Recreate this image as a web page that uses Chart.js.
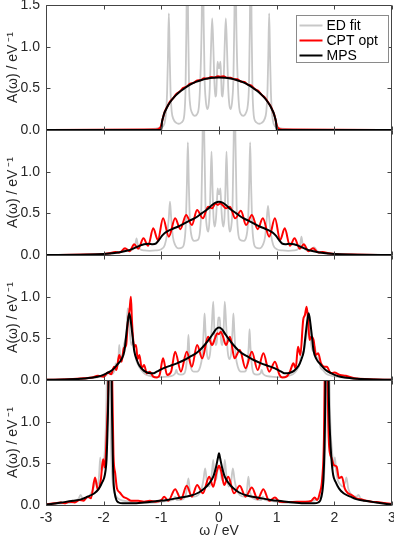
<!DOCTYPE html>
<html><head><meta charset="utf-8">
<script src="https://cdn.jsdelivr.net/npm/chart.js@4.4.1/dist/chart.umd.min.js"></script>
<style>
html,body{margin:0;padding:0;background:#fff;}
#wrap{position:relative;width:394px;height:540px;overflow:hidden;background:#fff;}
#wrap canvas{position:absolute;left:0;top:0;}
</style></head><body>
<div id="wrap">
<canvas id="p0" width="394" height="540"></canvas>
<canvas id="p1" width="394" height="540"></canvas>
<canvas id="p2" width="394" height="540"></canvas>
<canvas id="p3" width="394" height="540"></canvas>
</div>
<script>
// ---------- tick labels / names ----------
const xTickValues = [-3, -2, -1, 0, 1, 2, 3];
const yTickValues = [0, 0.5, 1.0, 1.5];
const seriesNames = ['ED fit', 'CPT opt', 'MPS'];
const yTitle = 'A(\u03c9) / eV\u2009\u207b\u00b9';
const xTitle = '\u03c9 / eV';

// ---------- panel 1 ----------
const ed1 = [[-3,0],[-1.3,0.005],[-1.1,0.015],[-1.0,0.035],[-0.95,0.07],[-0.92,0.2],[-0.9,0.45],[-0.885,0.9],[-0.87,1.4],[-0.855,0.9],[-0.84,0.45],[-0.82,0.22],[-0.79,0.13],[-0.74,0.085],[-0.7,0.075],[-0.65,0.09],[-0.61,0.14],[-0.595,0.24],[-0.58,0.5],[-0.565,1.25],[-0.55,2.5],[-0.535,1.25],[-0.52,0.55],[-0.5,0.3],[-0.47,0.21],[-0.42,0.17],[-0.38,0.19],[-0.35,0.27],[-0.33,0.5],[-0.3,1.3],[-0.283,2.5],[-0.266,1.3],[-0.25,0.62],[-0.23,0.36],[-0.205,0.25],[-0.18,0.3],[-0.16,0.5],[-0.14,0.95],[-0.118,1.34],[-0.096,0.95],[-0.08,0.58],[-0.065,0.4],[-0.05,0.42],[-0.037,0.62],[-0.025,0.82],[-0.012,0.77],[0,0.74],[0.012,0.77],[0.025,0.82],[0.037,0.62],[0.05,0.42],[0.065,0.4],[0.08,0.58],[0.096,0.95],[0.118,1.34],[0.14,0.95],[0.16,0.5],[0.18,0.3],[0.205,0.25],[0.23,0.36],[0.25,0.62],[0.266,1.3],[0.283,2.5],[0.3,1.3],[0.33,0.5],[0.35,0.27],[0.38,0.19],[0.42,0.17],[0.47,0.21],[0.5,0.3],[0.52,0.55],[0.535,1.25],[0.55,2.5],[0.565,1.25],[0.58,0.5],[0.595,0.24],[0.61,0.14],[0.65,0.09],[0.7,0.075],[0.74,0.085],[0.79,0.13],[0.82,0.22],[0.84,0.45],[0.855,0.9],[0.87,1.4],[0.885,0.9],[0.9,0.45],[0.92,0.2],[0.95,0.07],[1.0,0.035],[1.1,0.015],[1.3,0.005],[3,0]];
const cpt1 = [[-3,0],[-1.15,0.005],[-1.06,0.01],[-1.03,0.02],[-1.01,0.04],[-0.99,0.09],[-0.97,0.15],[-0.94,0.22],[-0.9,0.275],[-0.85,0.34],[-0.8,0.378],[-0.74,0.432],[-0.68,0.462],[-0.62,0.505],[-0.56,0.522],[-0.5,0.556],[-0.44,0.566],[-0.38,0.594],[-0.32,0.598],[-0.26,0.62],[-0.2,0.618],[-0.14,0.636],[-0.08,0.63],[-0.02,0.645],[0.02,0.638],[0.08,0.644],[0.14,0.628],[0.2,0.627],[0.26,0.61],[0.32,0.608],[0.38,0.582],[0.44,0.576],[0.5,0.545],[0.56,0.532],[0.62,0.492],[0.68,0.47],[0.74,0.422],[0.8,0.385],[0.85,0.333],[0.9,0.28],[0.94,0.215],[0.97,0.155],[0.99,0.09],[1.01,0.04],[1.03,0.02],[1.06,0.01],[1.15,0.005],[3,0]];
const mps1 = [[-3,0],[-1.02,0],[-1.0,0.01],[-0.99,0.09],[-0.97,0.15],[-0.95,0.2],[-0.92,0.245],[-0.88,0.3],[-0.82,0.36],[-0.75,0.415],[-0.68,0.46],[-0.6,0.5],[-0.5,0.545],[-0.4,0.578],[-0.3,0.601],[-0.2,0.617],[-0.1,0.627],[0,0.63],[0.1,0.627],[0.2,0.617],[0.3,0.601],[0.4,0.578],[0.5,0.545],[0.6,0.5],[0.68,0.46],[0.75,0.415],[0.82,0.36],[0.88,0.3],[0.92,0.245],[0.95,0.2],[0.97,0.15],[0.99,0.09],[1.0,0.01],[1.02,0],[3,0]];

// ---------- panel 2 ----------
const ed2 = [[-3,0],[-2.2,0.005],[-1.9,0.015],[-1.75,0.03],[-1.65,0.05],[-1.6,0.07],[-1.55,0.05],[-1.49,0.07],[-1.45,0.13],[-1.43,0.2],[-1.41,0.13],[-1.37,0.07],[-1.3,0.055],[-1.2,0.05],[-1.1,0.055],[-1.0,0.07],[-0.94,0.12],[-0.9,0.25],[-0.87,0.45],[-0.85,0.64],[-0.83,0.45],[-0.8,0.22],[-0.76,0.12],[-0.7,0.08],[-0.64,0.09],[-0.6,0.16],[-0.575,0.38],[-0.555,0.9],[-0.54,1.35],[-0.525,0.9],[-0.505,0.42],[-0.48,0.24],[-0.43,0.17],[-0.37,0.18],[-0.33,0.28],[-0.305,0.6],[-0.285,1.4],[-0.27,2.4],[-0.255,1.4],[-0.235,0.6],[-0.21,0.33],[-0.185,0.28],[-0.165,0.42],[-0.148,0.8],[-0.13,1.24],[-0.112,0.8],[-0.095,0.45],[-0.075,0.34],[-0.055,0.42],[-0.038,0.6],[-0.024,0.8],[-0.012,0.75],[0,0.73],[0.012,0.75],[0.024,0.8],[0.038,0.6],[0.055,0.42],[0.075,0.34],[0.095,0.45],[0.112,0.8],[0.13,1.24],[0.148,0.8],[0.165,0.42],[0.185,0.28],[0.21,0.33],[0.235,0.6],[0.255,1.4],[0.27,2.4],[0.285,1.4],[0.305,0.6],[0.33,0.28],[0.37,0.18],[0.43,0.17],[0.48,0.24],[0.505,0.42],[0.525,0.9],[0.54,1.35],[0.555,0.9],[0.575,0.38],[0.6,0.16],[0.64,0.09],[0.7,0.08],[0.76,0.12],[0.8,0.22],[0.83,0.45],[0.85,0.59],[0.87,0.45],[0.9,0.25],[0.94,0.12],[1.0,0.07],[1.1,0.055],[1.2,0.05],[1.3,0.055],[1.37,0.07],[1.41,0.13],[1.43,0.22],[1.45,0.13],[1.49,0.07],[1.55,0.05],[1.6,0.07],[1.65,0.09],[1.7,0.05],[1.75,0.03],[1.9,0.015],[2.2,0.005],[3,0]];
const cpt2 = [[-3,0],[-2.3,0.005],[-2.05,0.01],[-1.9,0.02],[-1.8,0.035],[-1.72,0.03],[-1.63,0.08],[-1.55,0.045],[-1.47,0.13],[-1.4,0.075],[-1.31,0.2],[-1.23,0.11],[-1.14,0.32],[-1.06,0.18],[-0.97,0.44],[-0.87,0.22],[-0.76,0.44],[-0.67,0.31],[-0.57,0.48],[-0.47,0.36],[-0.38,0.54],[-0.28,0.44],[-0.19,0.58],[-0.12,0.56],[-0.06,0.62],[-0.02,0.6],[0.02,0.62],[0.06,0.6],[0.12,0.56],[0.19,0.58],[0.28,0.44],[0.38,0.53],[0.47,0.36],[0.57,0.48],[0.67,0.31],[0.76,0.44],[0.87,0.22],[0.97,0.44],[1.06,0.18],[1.14,0.32],[1.23,0.11],[1.31,0.2],[1.4,0.075],[1.47,0.13],[1.55,0.045],[1.63,0.08],[1.72,0.03],[1.8,0.035],[1.9,0.02],[2.05,0.01],[2.3,0.005],[3,0]];
const mps2 = [[-3,0],[-2.4,0.002],[-2.1,0.008],[-1.9,0.018],[-1.75,0.03],[-1.6,0.05],[-1.48,0.08],[-1.38,0.11],[-1.3,0.13],[-1.22,0.135],[-1.15,0.13],[-1.09,0.14],[-1.04,0.18],[-0.99,0.23],[-0.94,0.265],[-0.88,0.29],[-0.8,0.315],[-0.7,0.345],[-0.6,0.38],[-0.5,0.415],[-0.4,0.45],[-0.3,0.5],[-0.2,0.55],[-0.12,0.6],[-0.06,0.628],[0,0.64],[0.06,0.628],[0.12,0.6],[0.2,0.55],[0.3,0.5],[0.4,0.45],[0.5,0.415],[0.6,0.38],[0.7,0.345],[0.8,0.315],[0.88,0.29],[0.94,0.265],[0.99,0.23],[1.04,0.18],[1.09,0.14],[1.15,0.13],[1.22,0.135],[1.3,0.13],[1.38,0.11],[1.48,0.08],[1.6,0.05],[1.75,0.03],[1.9,0.018],[2.1,0.008],[2.4,0.002],[3,0]];

// ---------- panel 3 ----------
const ed3 = [[-3,0],[-2.5,0.01],[-2.2,0.025],[-2.05,0.04],[-1.95,0.06],[-1.9,0.1],[-1.86,0.07],[-1.81,0.12],[-1.79,0.2],[-1.77,0.13],[-1.745,0.25],[-1.73,0.42],[-1.71,0.28],[-1.68,0.28],[-1.65,0.42],[-1.62,0.5],[-1.6,0.62],[-1.585,0.86],[-1.565,0.82],[-1.545,0.56],[-1.52,0.42],[-1.495,0.46],[-1.47,0.36],[-1.44,0.25],[-1.4,0.18],[-1.35,0.12],[-1.28,0.07],[-1.2,0.05],[-1.1,0.035],[-1.0,0.035],[-0.9,0.04],[-0.8,0.055],[-0.76,0.08],[-0.74,0.12],[-0.72,0.08],[-0.66,0.065],[-0.6,0.08],[-0.57,0.16],[-0.545,0.35],[-0.53,0.54],[-0.515,0.35],[-0.49,0.16],[-0.44,0.1],[-0.38,0.1],[-0.33,0.15],[-0.29,0.3],[-0.265,0.6],[-0.25,0.8],[-0.235,0.6],[-0.21,0.32],[-0.18,0.25],[-0.15,0.35],[-0.125,0.65],[-0.1,0.94],[-0.08,0.6],[-0.06,0.42],[-0.04,0.45],[-0.025,0.6],[-0.012,0.75],[0,0.72],[0.012,0.75],[0.025,0.6],[0.04,0.45],[0.06,0.42],[0.08,0.6],[0.1,0.94],[0.125,0.65],[0.15,0.35],[0.18,0.25],[0.21,0.32],[0.235,0.6],[0.25,0.8],[0.265,0.6],[0.29,0.3],[0.33,0.15],[0.38,0.1],[0.44,0.1],[0.49,0.18],[0.515,0.4],[0.53,0.61],[0.545,0.4],[0.57,0.18],[0.6,0.08],[0.66,0.065],[0.72,0.08],[0.74,0.12],[0.76,0.08],[0.8,0.055],[0.9,0.04],[1.0,0.035],[1.1,0.035],[1.2,0.05],[1.28,0.07],[1.35,0.12],[1.4,0.2],[1.43,0.35],[1.46,0.3],[1.49,0.42],[1.52,0.55],[1.55,0.76],[1.575,0.6],[1.6,0.42],[1.63,0.35],[1.66,0.4],[1.69,0.28],[1.73,0.25],[1.76,0.15],[1.8,0.12],[1.85,0.08],[1.9,0.06],[2.0,0.045],[2.2,0.025],[2.5,0.01],[3,0]];
const cpt3 = [[-3,0.002],[-2.6,0.01],[-2.35,0.02],[-2.2,0.03],[-2.1,0.05],[-2.0,0.04],[-1.93,0.09],[-1.87,0.07],[-1.82,0.16],[-1.78,0.12],[-1.73,0.3],[-1.69,0.22],[-1.65,0.38],[-1.61,0.42],[-1.58,0.7],[-1.55,0.85],[-1.528,1.0],[-1.51,0.72],[-1.49,0.5],[-1.47,0.4],[-1.44,0.42],[-1.41,0.25],[-1.38,0.3],[-1.34,0.14],[-1.3,0.18],[-1.25,0.08],[-1.2,0.1],[-1.14,0.04],[-1.08,0.03],[-1.03,0.06],[-0.97,0.26],[-0.9,0.06],[-0.83,0.1],[-0.76,0.34],[-0.66,0.1],[-0.56,0.34],[-0.47,0.16],[-0.38,0.42],[-0.29,0.26],[-0.19,0.52],[-0.12,0.42],[-0.07,0.5],[-0.03,0.56],[0,0.55],[0.03,0.58],[0.07,0.52],[0.12,0.42],[0.19,0.52],[0.27,0.26],[0.36,0.36],[0.46,0.14],[0.57,0.34],[0.67,0.12],[0.77,0.32],[0.87,0.1],[0.97,0.22],[1.05,0.06],[1.1,0.03],[1.17,0.04],[1.23,0.1],[1.29,0.2],[1.33,0.14],[1.37,0.4],[1.41,0.3],[1.46,0.72],[1.49,0.78],[1.52,0.88],[1.545,0.72],[1.57,0.48],[1.6,0.52],[1.64,0.48],[1.68,0.3],[1.72,0.32],[1.77,0.2],[1.83,0.16],[1.87,0.16],[1.94,0.08],[2.0,0.09],[2.1,0.06],[2.2,0.05],[2.35,0.02],[2.6,0.01],[3,0.002]];
const mps3 = [[-3,0.002],[-2.7,0.006],[-2.4,0.015],[-2.18,0.03],[-2.05,0.05],[-1.95,0.08],[-1.85,0.12],[-1.77,0.18],[-1.69,0.25],[-1.64,0.35],[-1.615,0.5],[-1.585,0.68],[-1.555,0.8],[-1.525,0.68],[-1.495,0.5],[-1.47,0.35],[-1.425,0.24],[-1.38,0.17],[-1.3,0.11],[-1.22,0.085],[-1.15,0.08],[-1.08,0.1],[-0.97,0.14],[-0.85,0.17],[-0.73,0.2],[-0.6,0.24],[-0.5,0.28],[-0.4,0.32],[-0.33,0.36],[-0.25,0.42],[-0.16,0.5],[-0.1,0.56],[-0.05,0.61],[0,0.63],[0.05,0.61],[0.1,0.56],[0.16,0.5],[0.25,0.42],[0.33,0.36],[0.4,0.32],[0.5,0.28],[0.6,0.24],[0.73,0.2],[0.85,0.17],[0.97,0.14],[1.08,0.1],[1.15,0.08],[1.22,0.085],[1.3,0.11],[1.38,0.17],[1.425,0.24],[1.47,0.35],[1.495,0.5],[1.525,0.68],[1.555,0.8],[1.585,0.68],[1.615,0.5],[1.64,0.35],[1.69,0.25],[1.77,0.18],[1.85,0.12],[1.95,0.08],[2.05,0.05],[2.18,0.03],[2.4,0.015],[2.7,0.006],[3,0.002]];

// ---------- panel 4 ----------
const ed4 = [[-3,0.005],[-2.7,0.02],[-2.5,0.04],[-2.44,0.07],[-2.4,0.12],[-2.36,0.07],[-2.28,0.09],[-2.22,0.14],[-2.17,0.22],[-2.14,0.3],[-2.11,0.22],[-2.08,0.35],[-2.06,0.57],[-2.04,0.42],[-2.01,0.45],[-1.98,0.65],[-1.96,1.0],[-1.94,1.8],[-1.92,3.5],[-1.9,2.5],[-1.88,1.0],[-1.86,0.45],[-1.83,0.2],[-1.78,0.1],[-1.7,0.06],[-1.6,0.045],[-1.45,0.03],[-1.3,0.025],[-1.1,0.03],[-0.95,0.045],[-0.8,0.06],[-0.76,0.1],[-0.73,0.06],[-0.62,0.07],[-0.57,0.14],[-0.53,0.32],[-0.5,0.14],[-0.44,0.1],[-0.36,0.12],[-0.3,0.2],[-0.27,0.3],[-0.24,0.44],[-0.21,0.28],[-0.17,0.22],[-0.13,0.34],[-0.1,0.54],[-0.08,0.36],[-0.05,0.3],[-0.025,0.42],[0,0.46],[0.025,0.42],[0.05,0.3],[0.08,0.36],[0.1,0.54],[0.13,0.34],[0.17,0.22],[0.21,0.28],[0.24,0.44],[0.27,0.3],[0.3,0.2],[0.36,0.12],[0.44,0.1],[0.48,0.15],[0.51,0.34],[0.54,0.15],[0.62,0.07],[0.73,0.06],[0.76,0.1],[0.8,0.06],[0.95,0.045],[1.1,0.03],[1.3,0.025],[1.45,0.03],[1.6,0.045],[1.7,0.07],[1.76,0.1],[1.8,0.2],[1.83,0.45],[1.85,1.0],[1.87,2.5],[1.89,3.5],[1.91,1.8],[1.93,1.0],[1.96,0.65],[1.99,0.45],[2.01,0.57],[2.03,0.42],[2.06,0.3],[2.1,0.25],[2.15,0.22],[2.19,0.28],[2.21,0.33],[2.24,0.2],[2.3,0.12],[2.38,0.1],[2.42,0.12],[2.46,0.07],[2.6,0.04],[2.8,0.02],[3,0.005]];
const cpt4 = [[-3,0.01],[-2.85,0.02],[-2.75,0.03],[-2.68,0.02],[-2.6,0.04],[-2.5,0.03],[-2.42,0.06],[-2.35,0.05],[-2.28,0.1],[-2.22,0.08],[-2.15,0.33],[-2.1,0.18],[-2.05,0.3],[-2.01,0.55],[-1.98,0.45],[-1.95,0.8],[-1.92,1.4],[-1.9,2.2],[-1.88,3],[-1.865,2.5],[-1.85,1.4],[-1.83,0.6],[-1.8,0.38],[-1.77,0.2],[-1.72,0.15],[-1.66,0.1],[-1.6,0.08],[-1.52,0.05],[-1.4,0.05],[-1.3,0.04],[-1.2,0.05],[-1.1,0.04],[-1.0,0.06],[-0.95,0.1],[-0.88,0.05],[-0.76,0.19],[-0.66,0.07],[-0.56,0.23],[-0.47,0.1],[-0.38,0.24],[-0.28,0.14],[-0.17,0.34],[-0.1,0.22],[-0.04,0.4],[0,0.47],[0.04,0.4],[0.09,0.24],[0.16,0.34],[0.26,0.14],[0.36,0.23],[0.46,0.1],[0.57,0.21],[0.67,0.07],[0.77,0.19],[0.87,0.05],[0.97,0.09],[1.05,0.04],[1.2,0.035],[1.35,0.04],[1.5,0.04],[1.6,0.05],[1.66,0.09],[1.7,0.06],[1.75,0.15],[1.79,0.32],[1.82,0.8],[1.84,2.0],[1.86,3],[1.875,2.2],[1.89,1.2],[1.91,0.7],[1.95,0.57],[1.99,0.48],[2.04,0.46],[2.08,0.32],[2.13,0.34],[2.18,0.2],[2.24,0.14],[2.3,0.12],[2.38,0.08],[2.46,0.07],[2.55,0.05],[2.65,0.04],[2.8,0.03],[3,0.01]];
const mps4 = [[-3,0.005],[-2.73,0.03],[-2.53,0.05],[-2.38,0.07],[-2.28,0.1],[-2.16,0.14],[-2.08,0.2],[-2.02,0.28],[-1.98,0.36],[-1.95,0.55],[-1.935,0.85],[-1.92,1.3],[-1.905,2.2],[-1.89,4],[-1.875,3],[-1.86,1.4],[-1.845,0.7],[-1.83,0.3],[-1.81,0.15],[-1.78,0.06],[-1.74,0.03],[-1.67,0.02],[-1.5,0.02],[-1.3,0.03],[-1.1,0.045],[-0.9,0.06],[-0.7,0.085],[-0.5,0.11],[-0.35,0.15],[-0.25,0.2],[-0.17,0.26],[-0.1,0.34],[-0.05,0.46],[-0.02,0.56],[0,0.62],[0.02,0.56],[0.05,0.46],[0.1,0.34],[0.17,0.26],[0.25,0.2],[0.35,0.15],[0.5,0.11],[0.7,0.085],[0.9,0.06],[1.1,0.045],[1.3,0.03],[1.5,0.02],[1.65,0.02],[1.72,0.03],[1.76,0.06],[1.79,0.15],[1.81,0.3],[1.83,0.7],[1.845,1.4],[1.86,3],[1.875,4],[1.89,2.2],[1.905,1.3],[1.925,0.85],[1.95,0.55],[1.98,0.36],[2.02,0.28],[2.08,0.2],[2.16,0.14],[2.28,0.1],[2.38,0.07],[2.53,0.05],[2.73,0.03],[3,0.005]];

const panelData = [
  [ed1, cpt1, mps1],
  [ed2, cpt2, mps2],
  [ed3, cpt3, mps3],
  [ed4, cpt4, mps4]
];

// ---------- styling ----------
const seriesColors = ['#c8c8c8', '#ff0000', '#000000'];
const seriesWidths = [1.8, 2, 2];
const FONT = '"Liberation Sans", Arial, Helvetica, sans-serif';
const TEXT = '#262626';
const AXIS = '#444444';
const H = 540, TOP = 5, PH = 125, LEFTW = 46, RIGHTPAD = 2, XAXISH = 35;

Chart.defaults.font.family = FONT;
Chart.defaults.color = TEXT;

function drawFrame(chart) {
  const ctx = chart.ctx, a = chart.chartArea;
  const xs = chart.scales.x, ys = chart.scales.y;
  const L = Math.round(a.left) + 0.5, R = Math.round(a.right) - 0.5;
  const T = Math.round(a.top) + 0.5, B = Math.round(a.bottom) + 0.5;
  ctx.save();
  ctx.strokeStyle = AXIS;
  ctx.lineWidth = 1;
  ctx.beginPath();
  ctx.moveTo(L, T); ctx.lineTo(R, T); ctx.lineTo(R, B); ctx.lineTo(L, B); ctx.closePath();
  xTickValues.forEach(v => {
    const px = Math.round(xs.getPixelForValue(v)) + 0.5;
    ctx.moveTo(px, B); ctx.lineTo(px, B - 4);
    ctx.moveTo(px, T); ctx.lineTo(px, T + 4);
  });
  yTickValues.forEach(v => {
    const py = Math.round(ys.getPixelForValue(v)) + 0.5;
    ctx.moveTo(L, py); ctx.lineTo(L + 4, py);
    ctx.moveTo(R, py); ctx.lineTo(R - 4, py);
  });
  ctx.stroke();
  ctx.restore();
}

function drawLegend(chart) {
  const {ctx, chartArea: a} = chart;
  const bw = 92, bh = 47;
  const bx = Math.round(a.right) - 96 + 0.5, by = Math.round(a.top) + 10 + 0.5;
  ctx.save();
  ctx.fillStyle = '#ffffff';
  ctx.fillRect(bx, by, bw, bh);
  ctx.strokeStyle = '#8a8a8a';
  ctx.lineWidth = 1;
  ctx.strokeRect(bx, by, bw, bh);
  ctx.font = '14px ' + FONT;
  ctx.textBaseline = 'middle';
  ctx.textAlign = 'left';
  chart.data.datasets.forEach((ds, i) => {
    const yy = by + 10 + i * 15;
    ctx.strokeStyle = ds.borderColor;
    ctx.lineWidth = 2;
    ctx.beginPath();
    ctx.moveTo(bx + 3, yy); ctx.lineTo(bx + 26, yy);
    ctx.stroke();
    ctx.fillStyle = '#000';
    ctx.fillText(ds.label, bx + 30, yy + 0.5);
  });
  ctx.restore();
}

const decoPlugin = {
  id: 'panelDeco',
  afterDraw(chart, args, opts) {
    drawFrame(chart);
    if (opts && opts.show) drawLegend(chart);
  }
};

panelData.forEach((series, k) => {
  const isBottom = k === 3;
  const top = TOP + PH * k;
  const bottom = top + PH;
  const datasets = series.map((pts, i) => ({
    label: seriesNames[i],
    data: pts.map(p => ({x: p[0], y: p[1]})),
    borderColor: seriesColors[i],
    borderWidth: seriesWidths[i],
    pointRadius: 0,
    fill: false,
    cubicInterpolationMode: 'monotone',
    order: 3 - i
  }));
  const setXTicks = s => { s.ticks = xTickValues.map(v => ({value: v})); };
  const setYTicks = s => { s.ticks = yTickValues.map(v => ({value: v})); };
  new Chart(document.getElementById('p' + k), {
    type: 'line',
    data: {datasets},
    plugins: [decoPlugin],
    options: {
      responsive: false,
      animation: false,
      events: [],
      layout: {padding: {top: top, left: 0, right: RIGHTPAD, bottom: isBottom ? 0 : H - bottom}},
      plugins: {
        legend: {display: false},
        tooltip: {enabled: false},
        panelDeco: {show: k === 0}
      },
      scales: {
        x: {
          type: 'linear', min: -3, max: 3, position: 'bottom',
          display: isBottom,
          grid: {display: false, drawTicks: false},
          border: {display: false},
          afterBuildTicks: setXTicks,
          ticks: {font: {size: 14}, color: TEXT, padding: 5, maxRotation: 0, callback: v => String(v)},
          title: {display: true, text: xTitle, font: {size: 14}, color: TEXT, padding: {top: 0, bottom: 0}},
          afterFit: s => { s.height = isBottom ? XAXISH : 0; s.paddingLeft = 0; s.paddingRight = 0; }
        },
        y: {
          type: 'linear', min: 0, max: 1.5, position: 'left',
          grid: {display: false, drawTicks: false},
          border: {display: false},
          afterBuildTicks: setYTicks,
          ticks: {font: {size: 14}, color: TEXT, padding: 6,
                  callback: v => (k > 0 && v === 1.5) ? '' : v.toFixed(1)},
          title: {display: true, text: yTitle, font: {size: 14}, color: TEXT, padding: {top: 5, bottom: 0}},
          afterFit: s => { s.width = LEFTW; s.paddingTop = 0; s.paddingBottom = 0; }
        }
      }
    }
  });
});
</script>
</body></html>
